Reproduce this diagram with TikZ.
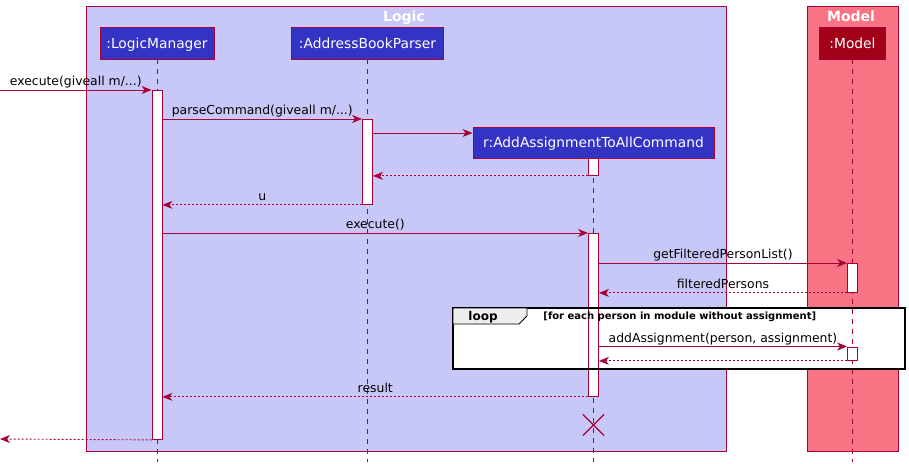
\documentclass[tikz,border=0pt]{standalone}
\usepackage{fontspec}
\setmainfont{DejaVu Sans}
\usetikzlibrary{arrows.meta,shapes.misc}
\definecolor{umlred}{HTML}{A80036}
\definecolor{logicbg}{HTML}{C8C8F8}
\definecolor{modelbg}{HTML}{F87484}
\definecolor{partblue}{HTML}{3333C4}
\definecolor{partred}{HTML}{A00018}
\definecolor{tabgray}{HTML}{EEEEEE}

\begin{document}
\begin{tikzpicture}[x=1pt,y=-1pt,line width=0.9pt,
        part/.style={draw=umlred,fill=partblue,text=white,minimum height=32pt,inner sep=0pt,
            text height=10.5pt,text depth=0pt,font=\fontsize{13.8}{16}\selectfont},
        act/.style={draw=umlred,fill=white,minimum width=10pt,anchor=north,inner sep=0pt},
        life/.style={umlred,dash pattern=on 5pt off 5pt},
        call/.style={umlred,-{Stealth[length=10pt,width=8pt,inset=3pt]}},
        ret/.style={call,dash pattern=on 2pt off 2pt},
        lbl/.style={anchor=base,yshift=4.5pt,inner sep=0pt,text=black,font=\fontsize{12.4}{14}\selectfont},
        grptitle/.style={anchor=base,text=white,font=\bfseries\fontsize{14}{16}\selectfont}]
    \useasboundingbox (0,0) rectangle (909,463);

    % boxes
    \draw[umlred,fill=logicbg] (86.5,6) rectangle (726.5,451);
    \draw[umlred,fill=modelbg] (807,6) rectangle (898,451);
    \node[grptitle] (logicTitle) at (404,21) {Logic};
    \node[grptitle] (modelTitle) at (851,21) {Model};

    % loop frame, filled before the lifelines
    \fill[white] (453,308) rectangle (905,369);

    % participants
    \node[part,minimum width=114pt] (lm) at (157,43) {:LogicManager};
    \node[part,minimum width=152pt] (abp) at (367.5,43) {:AddressBookParser};
    \node[part,minimum width=66pt,fill=partred] (mdl) at (852.5,43) {:Model};
    \node[part,minimum width=241pt,minimum height=31pt] (cmd) at (593.5,142.5) {r:AddAssignmentToAllCommand};

    \coordinate (bot) at (0,462);
    \draw[life] (lm.south) -- (lm.south |- bot);
    \draw[life] (abp.south) -- (abp.south |- bot);
    \draw[life] (cmd.south) -- (cmd.south |- bot);
    \draw[life] (mdl.south) -- (mdl.south |- bot);

    % activations
    \node[act,minimum height=349pt] (lmAct) at (157,90) {};
    \node[act,minimum height=85pt] (abpAct) at (367.5,119) {};
    \node[act,minimum height=17pt] (cmdAct1) at (593.5,158) {};
    \node[act,minimum height=163pt] (cmdAct2) at (593.5,233) {};
    \node[act,minimum height=29pt] (mdlAct1) at (852.5,263) {};
    \node[act,minimum height=13.5pt] (mdlAct2) at (852.5,346.5) {};

    \draw[line width=2pt] (453,308) rectangle (905,369);
    \draw[fill=tabgray,line width=0.8pt] (453,308) -- (527,308) -- (527,316) -- (519,324) -- (453,324) -- cycle;
    \node[anchor=base,inner sep=0pt,font=\bfseries\fontsize{12}{14}\selectfont] (loopLbl) at (483,320.5) {loop};
    \node[anchor=base west,inner sep=0pt,font=\bfseries\fontsize{10}{12}\selectfont] (guard) at (543,319.5) {[for each person in module without assignment]};

    % messages
    \coordinate (in1) at (0,90);
    \coordinate (c3) at (0,133);
    \draw[call] (in1) -- node[lbl] (lExec) {execute(giveall m/...)} (lmAct.north west);
    \draw[call] (lmAct.east |- abpAct.north) -- node[lbl] (lParse) {parseCommand(giveall m/...)} (abpAct.north west);
    \draw[call] (abpAct.east |- c3) -- (cmd.west |- c3);
    \draw[ret] (cmdAct1.south west) -- (abpAct.east |- cmdAct1.south);
    \draw[ret] (abpAct.south west) -- node[lbl] (lU) {u} (lmAct.east |- abpAct.south);
    \draw[call] (lmAct.east |- cmdAct2.north) -- node[lbl] (lExec2) {execute()} (cmdAct2.north west);
    \draw[call] (cmdAct2.east |- mdlAct1.north) -- node[lbl] (lGet) {getFilteredPersonList()} (mdlAct1.north west);
    \draw[ret] (mdlAct1.south west) -- node[lbl] (lFiltered) {filteredPersons} (cmdAct2.east |- mdlAct1.south);
    \draw[call] (cmdAct2.east |- mdlAct2.north) -- node[lbl] (lAdd) {addAssignment(person, assignment)} (mdlAct2.north west);
    \draw[ret] (mdlAct2.south west) -- (cmdAct2.east |- mdlAct2.south);
    \draw[ret] (cmdAct2.south west) -- node[lbl] (lResult) {result} (lmAct.east |- cmdAct2.south);
    \coordinate (out1) at (0,439);
    \draw[ret] (lmAct.south west) -- (out1);

    \node[cross out,draw=umlred,line width=1.2pt,minimum size=20pt,inner sep=0pt] (del) at (593.5,425) {};
\end{tikzpicture}
\end{document}
